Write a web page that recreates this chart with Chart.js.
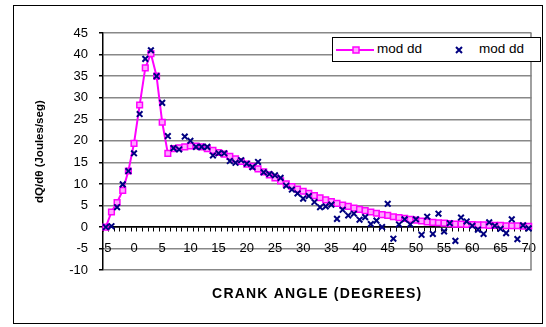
<!DOCTYPE html>
<html>
<head>
<meta charset="utf-8">
<script src="https://cdn.jsdelivr.net/npm/chart.js@4.4.1/dist/chart.umd.min.js"></script>
<style>
  body { margin: 0; background: #fff; }
  #wrap { position: relative; width: 546px; height: 327px; }
  #frame { position: absolute; left: 13px; top: 5px; width: 528px; height: 317px; border: 1px solid #000; pointer-events: none; }
  #legend { position: absolute; left: 332px; top: 37px; width: 207px; height: 23px; border: 1px solid #000; background: #fff;
            font: 13.5px "Liberation Sans", Arial, sans-serif; color: #000; }
  #legend span, #legend svg { position: absolute; }
</style>
</head>
<body>
<div id="wrap">
  <canvas id="chart" width="546" height="327"></canvas>
  <div id="frame"></div>
  <div id="legend">
    <svg style="left:3px; top:7px" width="38" height="10">
      <line x1="0" y1="5" x2="38" y2="5" stroke="#ff00ff" stroke-width="2"/>
      <rect x="17" y="2" width="6" height="6" fill="#ffa6ff" stroke="#ff00ff" stroke-width="1.5"/>
    </svg>
    <span style="left:44px; top:3px">mod dd</span>
    <svg style="left:121px; top:7px" width="10" height="10">
      <path d="M2 2 L8 8 M8 2 L2 8" stroke="#000080" stroke-width="2"/>
    </svg>
    <span style="left:146px; top:3px">mod dd</span>
  </div>
</div>
<script>
const crankAngle = [-5, -4, -3, -2, -1, 0, 1, 2, 3, 4, 5, 6, 7, 8, 9, 10,
  11, 12, 13, 14, 15, 16, 17, 18, 19, 20, 21, 22, 23, 24, 25, 26, 27, 28, 29, 30,
  31, 32, 33, 34, 35, 36, 37, 38, 39, 40, 41, 42, 43, 44, 45, 46, 47, 48, 49, 50,
  51, 52, 53, 54, 55, 56, 57, 58, 59, 60, 61, 62, 63, 64, 65, 66, 67, 68, 69, 70];

// fitted curve (magenta line)
const modelCurve = [0, 3.5, 5.7, 8.5, 13, 19.4, 28.3, 36.9, 40.2, 35, 24.3, 17.1, 18.2, 18.4, 18.6, 18.8,
  18.8, 18.6, 18.2, 17.8, 17.3, 16.9, 16.4, 15.8, 15.2, 14.6,
  14.1, 13.5, 12.8, 12.1, 11.4, 10.7, 10.0, 9.4, 8.8, 8.3,
  7.8, 7.3, 6.8, 6.3, 5.9, 5.5, 5.1, 4.8, 4.4, 4.1,
  3.8, 3.5, 3.2, 2.9, 2.7, 2.4, 2.2, 2.0, 1.8, 1.6,
  1.4, 1.2, 1.1, 1.0, 0.9, 0.8, 0.7, 0.7, 0.6, 0.6,
  0.5, 0.5, 0.4, 0.4, 0.4, 0.3, 0.3, 0.3, 0.2, 0.2];

// measured points (navy crosses)
const measured = [0, 0.2, 4.6, 9.9, 13, 17.1, 26.2, 39, 41, 35, 28.8, 21.1, 18.3, 18, 21, 20,
  18.6, 18.6, 18.6, 16.6, 17.1, 17.1, 15.3, 14.9, 15.5, 14.7,
  13.9, 15.1, 12.7, 12.3, 12.0, 11.4, 9.6, 8.7, 7.8, 6.6,
  7.2, 5.8, 4.6, 4.8, 5.2, 1.9, 4.0, 2.7, 3.1, 1.7,
  2.3, 0.7, 1.5, 0, 5.4, -2.7, 0.6, 1.8, 0.6, 1.8,
  -1.8, 2.4, -1.6, 3.1, -1.0, 0.9, -3.2, 2.2, 1.3, 0.3,
  -0.6, -1.6, 1.1, 0.3, -0.4, -1.4, 1.8, -2.8, 0.4, -0.3];

const FONT = '"Liberation Sans", Arial, sans-serif';

// gray right edge of the plot area
const plotFrame = {
  id: 'plotFrame',
  beforeDatasetsDraw(chart) {
    const { ctx, chartArea: a } = chart;
    ctx.save();
    ctx.strokeStyle = '#808080';
    ctx.lineWidth = 1.5;
    ctx.beginPath();
    ctx.moveTo(a.right - 0.5, a.top);
    ctx.lineTo(a.right - 0.5, a.bottom);
    ctx.stroke();
    ctx.restore();
  }
};

// letter spacing for the bottom title
const spacedTitle = {
  id: 'spacedTitle',
  afterLayout(chart) {
    const t = chart.titleBlock;
    if (!t || t._spaced) return;
    const draw = t.draw.bind(t);
    t.draw = function () {
      chart.ctx.letterSpacing = '1.2px';
      draw();
      chart.ctx.letterSpacing = '0px';
    };
    t._spaced = true;
  }
};

new Chart(document.getElementById('chart'), {
  type: 'line',
  data: {
    labels: crankAngle,
    datasets: [
      {
        label: 'mod dd',
        data: modelCurve,
        borderColor: '#ff00ff',
        borderWidth: 2,
        tension: 0,
        pointStyle: 'rect',
        pointRadius: 4,
        pointBorderWidth: 1.5,
        pointBorderColor: '#ff00ff',
        pointBackgroundColor: '#ffa6ff',
        order: 1
      },
      {
        label: 'mod dd',
        data: measured,
        showLine: false,
        borderColor: '#000080',
        pointStyle: 'crossRot',
        pointRadius: 4,
        pointBorderWidth: 2,
        pointBorderColor: '#000080',
        order: 0
      }
    ]
  },
  options: {
    responsive: false,
    animation: false,
    layout: { padding: { left: 13, right: 13, top: 33, bottom: 24 } },
    plugins: {
      legend: { display: false },
      tooltip: { enabled: false },
      title: {
        display: true,
        text: 'CRANK ANGLE (DEGREES)',
        position: 'bottom',
        fullSize: false,
        color: '#000',
        font: { family: FONT, size: 14, weight: 'bold' },
        padding: { top: 16, bottom: 0 }
      }
    },
    scales: {
      x: {
        type: 'category',
        position: { y: 0 },
        offset: true,
        grid: { display: true, drawOnChartArea: false, drawTicks: true, tickLength: 4, color: '#000', offset: true },
        border: { display: true, color: '#000', width: 1.5 },
        ticks: {
          autoSkip: false,
          maxRotation: 0,
          padding: 10,
          color: '#000',
          font: { family: FONT, size: 13 },
          callback: (v, i) => (crankAngle[i] % 5 === 0 ? String(crankAngle[i]) : '')
        }
      },
      y: {
        min: -10,
        max: 45,
        afterFit: s => { s.width = 90; },
        ticks: { stepSize: 5, padding: 11, color: '#000', font: { family: FONT, size: 13 } },
        grid: {
          color: c => (c.tick && c.tick.value === 0 ? '#000' : '#888'),
          lineWidth: 1.5,
          tickColor: '#000',
          tickLength: 4
        },
        border: { color: '#000', width: 1.5 },
        title: {
          display: true,
          text: 'dQ/dθ (Joules/seg)',
          color: '#000',
          font: { family: FONT, size: 11.5, weight: 'bold' },
          padding: { top: 20, bottom: 0 }
        }
      }
    }
  },
  plugins: [plotFrame, spacedTitle]
});
</script>
</body>
</html>
